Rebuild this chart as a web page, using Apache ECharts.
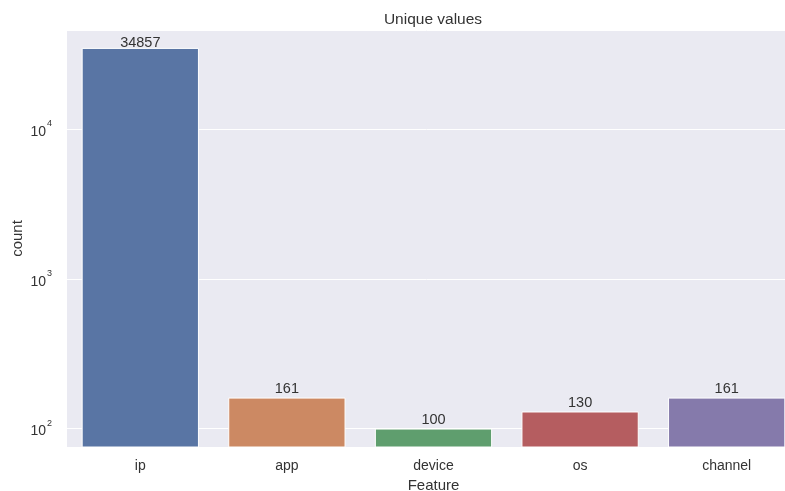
<!DOCTYPE html>
<html>
<head>
<meta charset="utf-8">
<script src="https://cdn.jsdelivr.net/npm/echarts@6/dist/echarts.min.js"></script>
<style>
  html, body { margin: 0; padding: 0; background: #fff; }
  #chart { width: 785px; height: 491px; }
</style>
</head>
<body>
<div id="chart"></div>
<script>
// data
var features = ["ip", "app", "device", "os", "channel"];
var uniqueCounts = [34857, 161, 100, 130, 161];
var yTicks = [100, 1000, 10000];

var palette = ["#5975a4", "#cc8963", "#5f9e6e", "#b55d60", "#857aab"];
var textColor = "#333333";
var fontName = "Liberation Sans, Arial, sans-serif";

var chart = echarts.init(document.getElementById("chart"));

var option = {
    animation: false,
    backgroundColor: "#ffffff",
    textStyle: { fontFamily: fontName },
    title: {
        text: "Unique values",
        left: 428,
        textAlign: "center",
        top: 7,
        textStyle: { fontSize: 15.5, fontWeight: "normal", color: textColor, fontFamily: fontName }
    },
    grid: {
        left: 67,
        width: 733,
        top: 30,
        bottom: 44,
        outerBoundsMode: "none",
        containLabel: false,
        show: true,
        backgroundColor: "#eaeaf2",
        borderWidth: 0
    },
    xAxis: {
        type: "category",
        data: features,
        name: "Feature",
        nameLocation: "middle",
        nameGap: 28,
        nameTextStyle: { fontSize: 15, color: textColor },
        axisLine: { show: false },
        axisTick: { show: false },
        axisLabel: { fontSize: 14, color: textColor, margin: 12 },
        splitLine: { show: false }
    },
    yAxis: {
        type: "log",
        logBase: 10,
        min: 75.3,
        max: 45900,
        name: "count",
        nameLocation: "middle",
        nameGap: 42,
        nameMoveOverlap: false,
        nameTextStyle: { fontSize: 15, color: textColor },
        axisLine: { show: false },
        axisTick: { show: false },
        axisLabel: {
            margin: 15,
            formatter: function (v) {
                var e = Math.round(Math.log10(v));
                if (yTicks.indexOf(Math.pow(10, e)) < 0 || Math.abs(Math.log10(v) - e) > 1e-6) {
                    return "";
                }
                return "{b|10}{s|" + e + "}";
            },
            rich: {
                b: { fontSize: 14, color: textColor, fontFamily: fontName, padding: [6, 0, 0, 0] },
                s: { fontSize: 9, color: textColor, fontFamily: fontName, verticalAlign: "top", padding: [0, 0, 10, 1] }
            }
        },
        splitLine: { show: true, lineStyle: { color: "#ffffff", width: 1 } }
    },
    series: [{
        type: "bar",
        data: uniqueCounts.map(function (v, i) {
            return {
                value: v,
                itemStyle: { color: palette[i] },
                label: { distance: i === 0 ? -3 : 1 }
            };
        }),
        barCategoryGap: "20%",
        itemStyle: { borderColor: "#ffffff", borderWidth: 1 },
        label: {
            show: true,
            position: "top",
            fontSize: 14.5,
            color: textColor
        }
    }]
};

chart.setOption(option);
</script>
</body>
</html>
